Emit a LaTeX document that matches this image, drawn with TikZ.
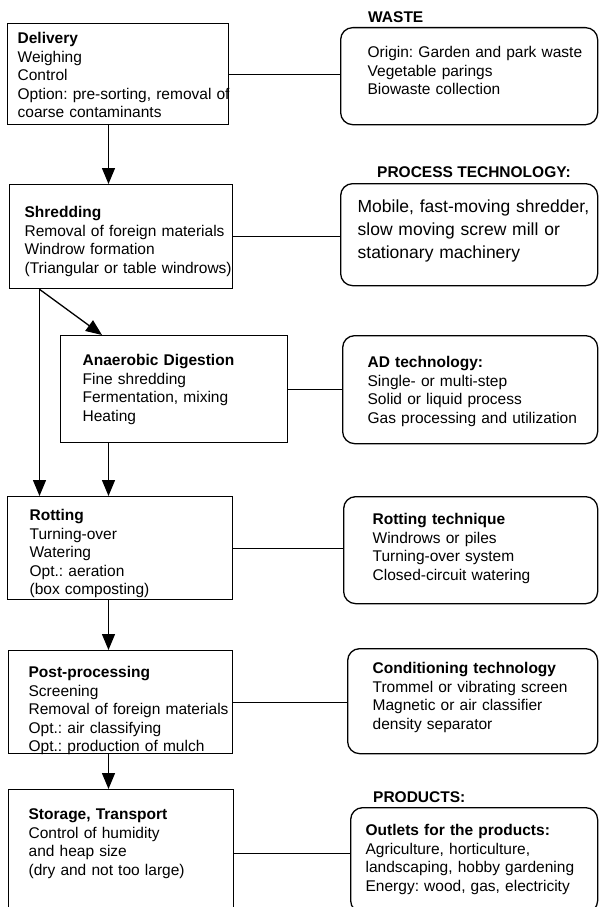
\documentclass[tikz,border=0pt]{standalone}
\usepackage{fontspec}
\setmainfont{Liberation Sans}
\usetikzlibrary{arrows.meta}
\newcommand{\boxtitle}[1]{\textbf{#1}}
\newcommand{\boxfont}{\fontsize{15.5}{18.5}\selectfont\frenchspacing}

\begin{document}
\begin{tikzpicture}[
  x=1pt,y=-1pt,
  font=\boxfont,
  flow/.style={-{Triangle[length=16pt,width=13pt]}, line width=1.3pt},
  link/.style={line width=1.3pt},
  stage/.style={draw, line width=1.3pt, anchor=north west, align=left, inner ysep=0pt},
  tech/.style={stage, rounded corners=12pt},
  heading/.style={anchor=base west, inner sep=0pt, font=\fontsize{15.5}{18}\selectfont\bfseries},
]
\useasboundingbox (0,0) rectangle (598,907);
\fill[white] (0,0) rectangle (598,907);

% process chain on the left
\node[stage, text width=201pt, inner xsep=10pt, text height=20pt, text depth=81pt] (deliv) at (7,23)
  {\boxtitle{Delivery}\\Weighing\\Control\\\mbox{Option: pre-sorting, removal of}\\coarse contaminants};
\node[stage, text width=193pt, inner xsep=15pt, text height=33pt, text depth=71pt] (shred) at (9,184)
  {\boxtitle{Shredding}\\\mbox{Removal of foreign materials}\\Windrow formation\\\mbox{(Triangular or table windrows)}};
\node[stage, text width=183pt, inner xsep=22pt, text height=30pt, text depth=77pt] (ad) at (60,335)
  {\boxtitle{Anaerobic Digestion}\\Fine shredding\\Fermentation, mixing\\Heating};
\node[stage, text width=181pt, inner xsep=22pt, text height=24pt, text depth=79pt] (rot) at (7,496)
  {\boxtitle{Rotting}\\Turning-over\\Watering\\Opt.: aeration\\(box composting)};
\node[stage, text width=184pt, inner xsep=20pt, text height=27pt, text depth=76pt] (post) at (8,650)
  {\boxtitle{Post-processing}\\Screening\\\mbox{Removal of foreign materials}\\Opt.: air classifying\\Opt.: production of mulch};
\node[stage, text width=185pt, inner xsep=20pt, text height=30pt, text depth=98pt] (store) at (8,789)
  {\boxtitle{Storage, Transport}\\Control of humidity\\and heap size\\(dry and not too large)};

% technology boxes on the right
\node[heading] (wastehd) at (368,23) {WASTE};
\node[tech, text width=203pt, inner xsep=27pt, text height=30pt, text depth=67pt] (waste) at (340,27)
  {\mbox{Origin: Garden and park waste}\\Vegetable parings\\Biowaste collection};
\node[heading] (prochd) at (377,177) {PROCESS TECHNOLOGY:};
\node[tech, text width=223pt, inner xsep=17pt, text height=29pt, text depth=73pt,
  font=\fontsize{17.5}{23}\selectfont\frenchspacing] (proc) at (340,183)
  {\mbox{Mobile, fast-moving shredder,}\\slow moving screw mill or\\stationary machinery};
\node[tech, text width=205pt, inner xsep=25pt, text height=32pt, text depth=76pt] (adtech) at (342,335)
  {\boxtitle{AD technology:}\\Single- or multi-step\\Solid or liquid process\\\mbox{Gas processing and utilization}};
\node[tech, text width=196pt, inner xsep=29pt, text height=28pt, text depth=79pt] (rottech) at (343,496)
  {\boxtitle{Rotting technique}\\Windrows or piles\\Turning-over system\\Closed-circuit watering};
\node[tech, text width=200pt, inner xsep=25pt, text height=25pt, text depth=80pt] (cond) at (347,648)
  {\boxtitle{Conditioning technology}\\Trommel or vibrating screen\\Magnetic or air classifier\\density separator};
\node[heading] (prodhd) at (373,802) {PRODUCTS:};
\node[tech, text width=217pt, inner xsep=15pt, text height=28pt, text depth=77pt] (prod) at (350,807)
  {\boxtitle{Outlets for the products:}\\Agriculture, horticulture,\\\mbox{landscaping, hobby gardening}\\\mbox{Energy: wood, gas, electricity}};

% arrows
\coordinate (spine) at (108.5,0);
\coordinate (branch) at (39.5,0);
\draw[flow] (deliv.south -| spine) -- (shred.north -| spine);
\draw[flow] (shred.south -| branch) -- (rot.north -| branch);
\draw[flow] (shred.south -| branch) -- ([xshift=42pt]ad.north west);
\draw[flow] (ad.south -| spine) -- (rot.north -| spine);
\draw[flow] (rot.south -| spine) -- (post.north -| spine);
\draw[flow] (post.south -| spine) -- (store.north -| spine);

\foreach \a/\b in {deliv/waste,shred/proc,ad/adtech,rot/rottech,post/cond,store/prod}
  \draw[link] (\a.east) -- (\a.east -| \b.west);
\end{tikzpicture}
\end{document}
